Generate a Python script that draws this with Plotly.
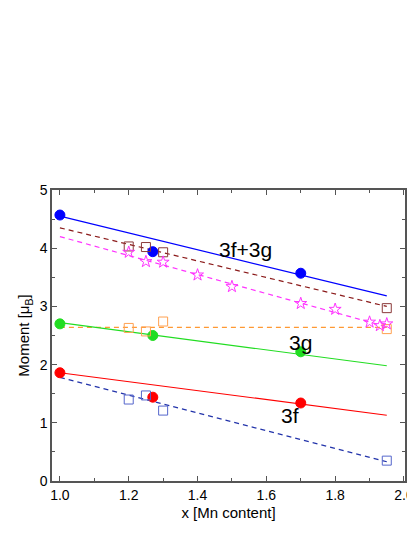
import plotly.graph_objects as go

fit_x = [1.0, 1.95]
blue_fit = [4.55, 3.18]; brown_fit = [4.35, 3.0]; mag_fit = [4.2, 2.65]
orange_fit = [2.64, 2.64]; green_fit = [2.72, 1.98]; red_fit = [1.86, 1.13]; navy_fit = [1.78, 0.33]

blue_x = [1.0, 1.27, 1.7]; blue_y = [4.57, 3.94, 3.57]
green_x = [1.0, 1.27, 1.7]; green_y = [2.7, 2.5, 2.22]
red_x = [1.0, 1.27, 1.7]; red_y = [1.86, 1.44, 1.34]
brown_x = [1.2, 1.25, 1.3, 1.95]; brown_y = [4.03, 4.02, 3.93, 2.97]
orange_x = [1.2, 1.25, 1.3, 1.95]; orange_y = [2.63, 2.57, 2.74, 2.61]
navy_x = [1.2, 1.25, 1.3, 1.95]; navy_y = [1.4, 1.47, 1.21, 0.35]
star_x = [1.2, 1.25, 1.3, 1.4, 1.5, 1.7, 1.8, 1.9, 1.93, 1.95]
star_y = [3.93, 3.77, 3.76, 3.54, 3.34, 3.05, 2.95, 2.73, 2.67, 2.7]

fig = go.Figure()
def line(y, c, dash):
    fig.add_trace(go.Scatter(x=fit_x, y=y, mode="lines", line=dict(color=c, width=1.2, dash=dash)))
line(blue_fit, "#0000ff", "solid"); line(brown_fit, "#8b1a1a", "5px,4px"); line(mag_fit, "#ff33ff", "5px,4px")
line(orange_fit, "#ff9933", "5px,4px"); line(green_fit, "#22dd22", "solid"); line(red_fit, "#ff0000", "solid")
line(navy_fit, "#2233aa", "5px,4px")

def pts(x, y, c, sym, size=10, w=1):
    fig.add_trace(go.Scatter(x=x, y=y, mode="markers",
        marker=dict(symbol=sym, size=size, color=c, line=dict(color=c, width=w))))
pts(blue_x, blue_y, "#0000ff", "circle"); pts(green_x, green_y, "#22dd22", "circle"); pts(red_x, red_y, "#ff0000", "circle")
pts(brown_x, brown_y, "#8b3a3a", "square-open", 9)
pts(orange_x, orange_y, "#ffa050", "square-open", 9)
pts(navy_x, navy_y, "#5566cc", "square-open", 9)
pts(star_x, star_y, "#ff33ff", "star-open", 9)

for t, x, y in [("3f+3g", 1.54, 3.97), ("3g", 1.70, 2.38), ("3f", 1.67, 1.12)]:
    fig.add_annotation(x=x, y=y, text=t, showarrow=False, font=dict(size=21, color="black"))

ax = dict(showgrid=False, zeroline=False, showline=True, linecolor="#555", linewidth=1.5, mirror="ticks",
          ticks="inside", ticklen=5, tickcolor="#555", tickfont=dict(size=14, color="black"))
fig.update_xaxes(**ax, range=[0.977, 2.003], dtick=0.2, tickformat=".1f",
                 minor=dict(dtick=0.1, ticks="inside", ticklen=3, tickcolor="#555"),
                 title=dict(text="x [Mn content]", font=dict(size=15), standoff=6))
fig.update_yaxes(**ax, range=[0, 5], dtick=1,
                 minor=dict(dtick=0.5, ticks="inside", ticklen=3, tickcolor="#555"),
                 title=dict(text="Moment [μ<sub>B</sub>]", font=dict(size=15), standoff=6))
fig.update_layout(width=415, height=537, showlegend=False, plot_bgcolor="white", paper_bgcolor="white",
                  margin=dict(l=44, r=9, t=182, b=64), font=dict(family="Liberation Sans", color="black"))
fig.write_html("out.html")
